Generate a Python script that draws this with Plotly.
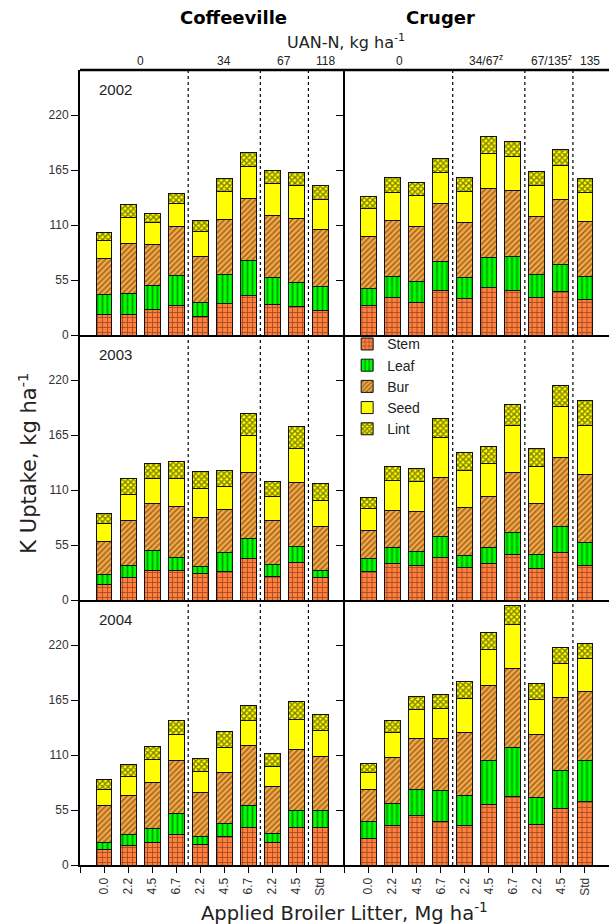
import plotly.graph_objects as go
from plotly.subplots import make_subplots

# ---------------- data ----------------
sites = ["Coffeeville", "Cruger"]
years = ["2002", "2003", "2004"]
litter_labels = ["0.0", "2.2", "4.5", "6.7", "2.2", "4.5", "6.7", "2.2", "4.5", "Std"]
positions = [1, 2, 3, 4, 5, 6, 7, 8, 9, 10]
components = ["Stem", "Leaf", "Bur", "Seed", "Lint"]

# each list: one row per year (2002, 2003, 2004), 10 treatments
stem_coffeeville = [
    [20.7, 20.7, 25.7, 29.3, 18.7, 31.7, 39.3, 30.7, 28.3, 24.7],
    [15.7, 22.4, 30.0, 29.4, 26.4, 28.4, 41.7, 23.4, 37.4, 22.4],
    [15.7, 19.3, 22.3, 30.7, 20.7, 28.7, 37.7, 22.7, 37.7, 37.7],
]
leaf_coffeeville = [
    [20.0, 21.0, 23.6, 30.0, 14.0, 28.6, 35.4, 26.6, 24.0, 23.6],
    [9.7, 12.3, 19.4, 13.0, 7.6, 19.0, 19.7, 12.3, 16.6, 7.6],
    [7.0, 11.4, 14.4, 21.0, 8.3, 13.0, 22.3, 9.0, 16.6, 16.6],
]
bur_coffeeville = [
    [36.0, 50.0, 41.7, 49.4, 46.0, 55.4, 62.0, 62.4, 64.4, 57.0],
    [33.3, 44.7, 47.3, 51.0, 48.7, 43.3, 66.0, 43.7, 63.4, 43.7],
    [36.6, 39.3, 46.3, 53.3, 43.3, 50.6, 60.0, 47.0, 61.4, 54.4],
]
seed_coffeeville = [
    [18.3, 26.3, 21.3, 22.6, 24.6, 28.0, 32.0, 31.6, 32.6, 30.0],
    [17.7, 26.0, 25.3, 28.0, 29.3, 23.3, 37.3, 24.6, 34.6, 26.0],
    [16.4, 18.3, 22.3, 25.3, 21.7, 25.0, 24.3, 20.3, 30.0, 26.0],
]
lint_coffeeville = [
    [7.3, 12.3, 9.4, 10.4, 11.4, 13.0, 14.3, 13.4, 13.0, 14.0],
    [10.0, 16.0, 14.4, 17.0, 17.0, 15.7, 22.3, 15.0, 21.4, 16.7],
    [10.0, 12.4, 13.0, 14.4, 13.0, 16.4, 15.0, 13.0, 18.0, 16.0],
]

stem_cruger = [
    [29.3, 37.3, 32.7, 44.7, 36.7, 47.7, 45.0, 37.7, 43.3, 36.0],
    [29.0, 37.0, 35.0, 42.7, 32.7, 36.4, 46.0, 31.7, 47.4, 35.0],
    [26.7, 39.7, 49.3, 43.3, 39.7, 61.0, 69.0, 41.0, 56.3, 64.0],
]
leaf_cruger = [
    [17.0, 21.0, 21.0, 29.0, 21.0, 29.6, 33.7, 23.0, 27.4, 22.3],
    [12.7, 16.0, 13.4, 21.3, 11.7, 16.0, 21.4, 13.7, 26.0, 23.0],
    [16.6, 22.0, 26.4, 31.7, 29.6, 43.7, 48.7, 26.7, 38.7, 40.7],
]
bur_cruger = [
    [52.4, 56.0, 54.6, 58.0, 55.3, 69.7, 66.3, 58.0, 65.0, 55.4],
    [28.0, 37.0, 40.0, 58.4, 48.0, 51.0, 60.6, 51.0, 69.0, 67.7],
    [32.4, 45.6, 51.0, 51.7, 63.7, 75.0, 79.0, 63.0, 73.0, 69.0],
]
seed_cruger = [
    [27.6, 28.7, 31.0, 30.6, 30.7, 34.7, 33.3, 30.6, 34.0, 28.6],
    [22.0, 29.4, 30.0, 40.6, 37.3, 33.0, 46.7, 37.6, 51.3, 49.3],
    [17.0, 25.0, 29.0, 30.0, 33.7, 36.0, 43.6, 34.6, 33.3, 33.0],
]
lint_cruger = [
    [12.0, 14.3, 13.4, 14.4, 14.0, 17.0, 15.7, 14.4, 16.0, 14.7],
    [10.7, 14.3, 13.3, 18.7, 17.7, 17.0, 20.7, 18.0, 21.3, 24.4],
    [9.0, 12.7, 13.3, 14.3, 17.0, 16.6, 19.0, 16.4, 16.0, 15.0],
]

uan_coffeeville_text = ["0", "34", "67", "118"]
uan_coffeeville_pos = [2.5, 6.0, 8.5, 10.2]
uan_cruger_text = ["0", "34/67<sup>z</sup>", "67/135<sup>z</sup>", "135"]
uan_cruger_pos = [2.3, 5.9, 8.6, 10.2]
group_dividers = [4.5, 7.5, 9.5]

# ---------------- styles ----------------
styles = {
    "Stem": dict(color="#FF7F3F", shape="+", fg="#3A1000", size=5, sol=0.3),
    "Leaf": dict(color="#00FF00", shape="|", fg="#003A00", size=5, sol=0.35),
    "Bur":  dict(color="#F5A742", shape="/", fg="#2A1500", size=4, sol=0.35),
    "Seed": dict(color="#FFFF00", shape="", fg="#000000", size=5, sol=0.3),
    "Lint": dict(color="#FFFF00", shape="x", fg="#000000", size=4, sol=0.6),
}

data = {
    "Coffeeville": [stem_coffeeville, leaf_coffeeville, bur_coffeeville, seed_coffeeville, lint_coffeeville],
    "Cruger": [stem_cruger, leaf_cruger, bur_cruger, seed_cruger, lint_cruger],
}

fig = make_subplots(rows=3, cols=2, horizontal_spacing=0, vertical_spacing=0)

for c, site in enumerate(sites):
    for r in range(3):
        for k, comp in enumerate(components):
            st = styles[comp]
            vals = data[site][k][r]
            fig.add_trace(
                go.Bar(
                    x=positions, y=vals, name=comp, width=0.66,
                    marker=dict(
                        color=st["color"],
                        line=dict(color="#111111", width=1),
                        pattern=dict(shape=st["shape"], fgcolor=st["fg"],
                                     bgcolor=st["color"], size=st["size"],
                                     solidity=st["sol"], fillmode="overlay"),
                    ),
                    showlegend=(c == 0 and r == 0),
                    legendgroup=comp,
                ),
                row=r + 1, col=c + 1,
            )

fig.update_layout(
    barmode="stack",
    width=609, height=924,
    margin=dict(l=80, r=0, t=70, b=59),
    plot_bgcolor="white", paper_bgcolor="white",
    font=dict(family="Liberation Sans, Arial", size=12, color="#222222"),
    legend=dict(x=0.505, y=0.675, xanchor="left", yanchor="top",
                traceorder="normal", bgcolor="rgba(0,0,0,0)",
                font=dict(size=14, family="Liberation Sans, Arial", color="#222222"),
                tracegroupgap=0, itemwidth=30),
)

for r in range(1, 4):
    for c in range(1, 3):
        bottom = (r == 3)
        fig.update_xaxes(
            range=[0, 11], row=r, col=c,
            showgrid=False, zeroline=False,
            showline=True, linecolor="black", linewidth=2 if bottom else 1.5,
            ticks="outside" if bottom else "", ticklen=6, tickcolor="black", tickwidth=1,
            tickvals=[0] + positions if bottom else [],
            ticktext=[""] + litter_labels if bottom else [],
            showticklabels=bottom, tickangle=-90,
            tickfont=dict(size=12, color="#333333"),
        )
        fig.update_yaxes(
            range=[0, 265], row=r, col=c,
            showgrid=False, zeroline=False,
            showline=True, linecolor="black", linewidth=2 if c == 1 else 1.5,
            ticks="outside", ticklen=7, tickcolor="black", tickwidth=1,
            tickvals=[0, 55, 110, 165, 220],
            showticklabels=(c == 1),
            tickfont=dict(size=12, color="#333333"),
        )

# borders & dividers
fig.add_shape(type="line", xref="paper", yref="paper", x0=0, x1=1, y0=1, y1=1,
              line=dict(color="black", width=2.5))
for c, xr in enumerate(["x", "x2"]):
    for d in group_dividers:
        fig.add_shape(type="line", xref=xr, yref="paper", x0=d, x1=d, y0=0, y1=1,
                      line=dict(color="black", width=1.2, dash="dot"), layer="above")

# annotations
ann = []
ann.append(dict(text="<b>Coffeeville</b>", xref="paper", yref="paper", x=0.185, y=1.066,
                yanchor="middle", showarrow=False,
                font=dict(size=18, family="DejaVu Sans", color="black")))
ann.append(dict(text="<b>Cruger</b>", xref="paper", yref="paper", x=0.75, y=1.066,
                yanchor="middle", showarrow=False,
                font=dict(size=18, family="DejaVu Sans", color="black")))
ann.append(dict(text="UAN-N, kg ha<sup>-1</sup>", xref="paper", yref="paper", x=0.502, y=1.036,
                yanchor="middle", showarrow=False,
                font=dict(size=16, family="DejaVu Sans", color="#222222")))
for t, p in zip(uan_coffeeville_text, uan_coffeeville_pos):
    ann.append(dict(text=t, xref="x", yref="paper", x=p, y=1.0, yanchor="bottom", yshift=0,
                    showarrow=False, font=dict(size=12, color="#222222")))
for t, p in zip(uan_cruger_text, uan_cruger_pos):
    ann.append(dict(text=t, xref="x2", yref="paper", x=p, y=1.0, yanchor="bottom", yshift=0,
                    showarrow=False, font=dict(size=12, color="#222222")))
axis_ids = ["", "3", "5"]
for r, yr in enumerate(years):
    ann.append(dict(text=yr, xref="x%s domain" % axis_ids[r], yref="y%s domain" % axis_ids[r],
                    x=0.064, y=0.928, xanchor="left", yanchor="middle", showarrow=False,
                    font=dict(size=15, color="#222222")))
ann.append(dict(text="K Uptake, kg ha<sup>-1</sup>", xref="paper", yref="paper", x=-0.1,
                xanchor="center", y=0.505, yanchor="middle",
                textangle=-90, showarrow=False,
                font=dict(size=21, family="DejaVu Sans", color="#222222")))
ann.append(dict(text="Applied Broiler Litter, Mg ha<sup>-1</sup>", xref="paper", yref="paper",
                x=0.50, y=-0.059, yanchor="middle", showarrow=False,
                font=dict(size=19.5, family="DejaVu Sans", color="#222222")))
fig.update_layout(annotations=ann)

fig.write_html("out.html")
